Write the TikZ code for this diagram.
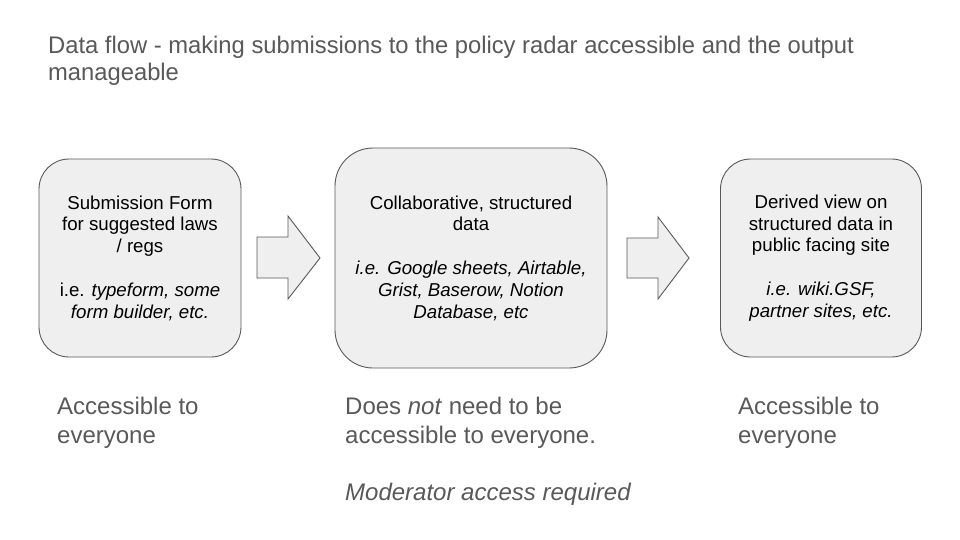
\documentclass[tikz,border=0pt]{standalone}
\usepackage{fontspec}
\setmainfont{Liberation Sans}
\newfontfamily\titlefont[FakeStretch=0.99]{Liberation Sans}
\definecolor{txtgray}{HTML}{595959}
\definecolor{boxfill}{HTML}{EFEFEF}
\definecolor{boxline}{HTML}{595959}
\begin{document}
\begin{tikzpicture}[x=1pt,y=-1pt,
  stage/.style={draw=boxline, line width=0.9pt, fill=boxfill, rounded corners=30pt,
    align=center, inner sep=0pt, font=\fontsize{18.67}{21.8}\selectfont, text=black},
  flowarrow/.style={draw=boxline, line width=0.9pt, fill=boxfill, line join=miter},
  note/.style={anchor=base west, align=left, inner sep=0pt, text=txtgray,
    font=\fontsize{24}{29}\selectfont},
  title/.style={anchor=base west, align=left, inner sep=0pt, text=txtgray,
    font=\titlefont\fontsize{24}{27.5}\selectfont}]
\useasboundingbox (0,0) rectangle (960,540);
\fill[white] (0,0) rectangle (960,540);

% multi-line nodes: the base anchor is the baseline of the last line
\node[title] (title) at (48,81) {Data flow - making submissions to the policy radar accessible and the output\\manageable};

\node[stage, minimum width=202pt, minimum height=198pt] (form) at (140,258)
  {Submission Form\\for suggested laws\\/ regs\\[21.8pt]i.e. \textit{typeform, some}\\\textit{form builder, etc.}};
\node[stage, minimum width=272pt, minimum height=220pt, rounded corners=38pt] (data) at (471,258)
  {Collaborative, structured\\data\\[21.8pt]\textit{i.e. Google sheets, Airtable,}\\\textit{Grist, Baserow, Notion}\\\textit{Database, etc}};
\node[stage, minimum width=201pt, minimum height=198pt] (site) at (821,258)
  {Derived view on\\structured data in\\public facing site\\[21.8pt]\textit{i.e. wiki.GSF,}\\\textit{partner sites, etc.}};

\draw[flowarrow] (257,237) -- (288,237) -- (288,216) -- (320,258) -- (288,299) -- (288,278) -- (257,278) -- cycle;
\draw[flowarrow] (627,238) -- (658,238) -- (658,217) -- (689,258) -- (658,299) -- (658,278) -- (627,278) -- cycle;

\node[note] (leftnote) at (57,443) {Accessible to\\everyone};
\node[note] (midnote) at (345,443) {Does \textit{not} need to be\\accessible to everyone.};
\node[note] (modnote) at (345,500) {\textit{Moderator access required}};
\node[note] (rightnote) at (738,443) {Accessible to\\everyone};
\end{tikzpicture}
\end{document}
